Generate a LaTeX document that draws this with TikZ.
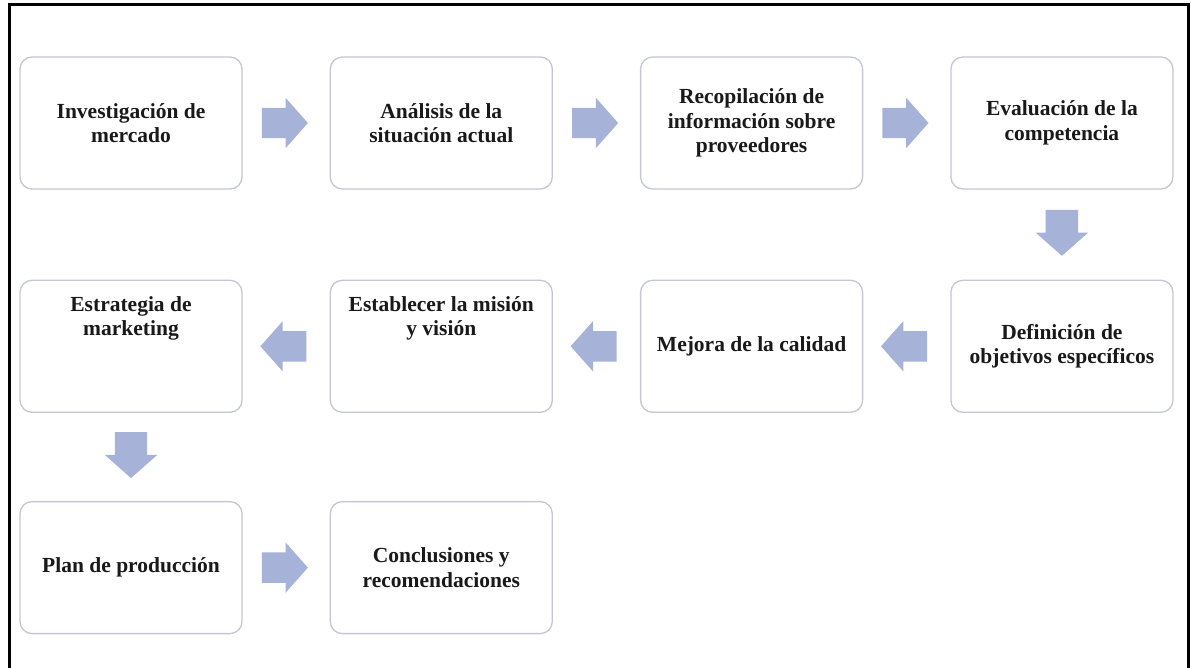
\documentclass[tikz,border=0pt]{standalone}
\usepackage{fontspec}
\setmainfont{Liberation Serif}
\usetikzlibrary{shapes,arrows,positioning,calc}

\definecolor{boxline}{RGB}{196,198,210}
\definecolor{arrowfill}{RGB}{166,178,216}
\definecolor{textdark}{RGB}{25,25,25}

\begin{document}
\begin{tikzpicture}[x=1pt,y=1pt,font=\bfseries\fontsize{21.5}{24.5}\selectfont]

    % Define node styles
    \tikzstyle{stage} = [draw=boxline, line width=1.3pt, fill=white, rounded corners=12pt, minimum width=222pt, minimum height=132pt, inner sep=0pt, align=center, text=textdark]
    \tikzstyle{flow} = [single arrow, draw=none, fill=arrowfill, minimum height=46pt, inner xsep=0pt, inner ysep=15pt, single arrow head extend=10pt, single arrow tip angle=97]
    \tikzstyle{flowdown} = [flow, shape border rotate=270, inner xsep=16pt, inner ysep=0pt, yshift=9pt]

    \useasboundingbox (0,0) rectangle (1191,-668);

    % Frame
    \draw [line width=3pt] (9,-668) -- (9,-5) -- (1188,-5) -- (1188,-668);

    % Draw nodes
    \node [stage] (mercado) at (131,-123) {Investigación de\\mercado};
    \node [stage, right=87pt of mercado] (situacion) {Análisis de la\\situación actual};
    \node [stage, right=87pt of situacion] (proveedores) {Recopilación de\\información sobre\\proveedores};
    \node [stage, right=87pt of proveedores] (competencia) {Evaluación de la\\competencia};
    \node [stage, below=90pt of competencia] (objetivos) {Definición de\\objetivos específicos};
    \node [stage, left=87pt of objetivos] (calidad) {Mejora de la calidad};
    \node [stage, left=87pt of calidad] (mision) {Establecer la misión\\y visión\\[36pt]\mbox{}};
    \node [stage, left=87pt of mision] (marketing) {Estrategia de\\marketing\\[36pt]\mbox{}};
    \node [stage, below=88pt of marketing] (produccion) {Plan de producción};
    \node [stage, right=87pt of produccion] (conclusiones) {Conclusiones y\\recomendaciones};

    % Draw arrows
    \node [flow, xshift=-8pt] (f1) at ($(mercado.east)!0.5!(situacion.west)$) {};
    \node [flow, xshift=-8pt] (f2) at ($(situacion.east)!0.5!(proveedores.west)$) {};
    \node [flow, xshift=-8pt] (f3) at ($(proveedores.east)!0.5!(competencia.west)$) {};
    \node [flowdown] (f4) at ($(competencia.south)!0.5!(objetivos.north)$) {};
    \node [flow, shape border rotate=180, xshift=4pt] (f5) at ($(objetivos.west)!0.5!(calidad.east)$) {};
    \node [flow, shape border rotate=180, xshift=4pt] (f6) at ($(calidad.west)!0.5!(mision.east)$) {};
    \node [flow, shape border rotate=180, xshift=4pt] (f7) at ($(mision.west)!0.5!(marketing.east)$) {};
    \node [flowdown] (f8) at ($(marketing.south)!0.5!(produccion.north)$) {};
    \node [flow, xshift=-8pt] (f9) at ($(produccion.east)!0.5!(conclusiones.west)$) {};

\end{tikzpicture}
\end{document}
